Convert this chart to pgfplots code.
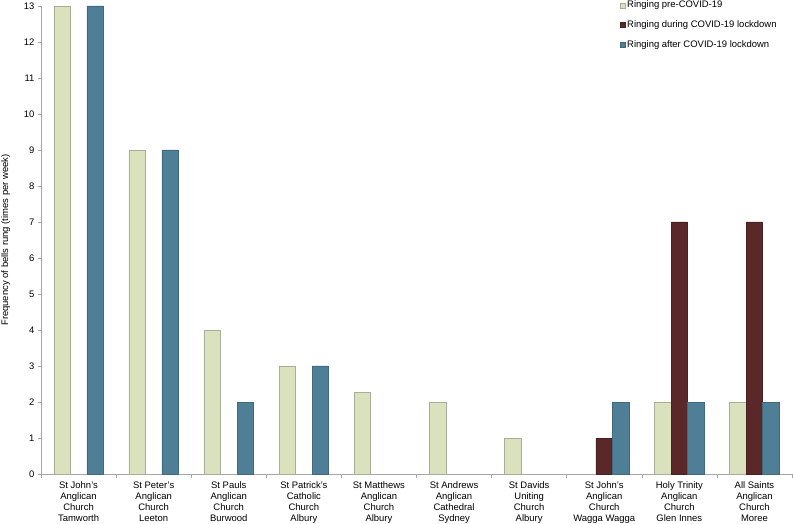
\documentclass[border=0pt]{standalone}
\usepackage{pgfplots}
\pgfplotsset{compat=1.18}
\usepackage{fontspec}
\setmainfont{Liberation Sans}
\definecolor{preC}{HTML}{DAE2BD}
\definecolor{preD}{HTML}{A9AE98}
\definecolor{durC}{HTML}{5A2828}
\definecolor{durD}{HTML}{4A2020}
\definecolor{aftC}{HTML}{4F7F97}
\definecolor{aftD}{HTML}{41697D}
\definecolor{axC}{HTML}{A6A6A6}
\begin{document}
\begin{tikzpicture}
\useasboundingbox (-41bp,-50bp) rectangle (753bp,474bp);
\begin{axis}[
  ybar, bar width=0.22,
  scale only axis,
  width=751bp, height=468bp,
  xmin=-0.5, xmax=9.5, ymin=0, ymax=13,
  axis x line*=bottom, axis y line*=left,
  axis line style={axC, line width=0.6pt},
  ytick={0,1,...,13},
  xtick={0,...,9},
  major x tick style={draw=none},
  minor xtick={-0.5,0.5,...,9.5},
  minor x tick style={axC, line width=0.6pt},
  y tick style={axC, line width=0.6pt},
  tick align=outside,
  major tick length=3bp, minor tick length=4bp,
  xticklabels={{St John's\\Anglican\\Church\\Tamworth},{St Peter's\\Anglican\\Church\\Leeton},{St Pauls\\Anglican\\Church\\Burwood},{St Patrick's\\Catholic\\Church\\Albury},{St Matthews\\Anglican\\Church\\Albury},{St Andrews\\Anglican\\Cathedral\\Sydney},{St Davids\\Uniting\\Church\\Albury},{St John's\\Anglican\\Church\\Wagga Wagga},{Holy Trinity\\Anglican\\Church\\Glen Innes},{All Saints\\Anglican\\Church\\Moree}},
  xticklabel style={align=center, font=\fontsize{9.5}{11}\selectfont, yshift=-1.5bp},
  yticklabel style={font=\fontsize{9.5}{11}\selectfont},
  /pgf/number format/assume math mode=true,
  ylabel={Frequency of bells rung (times per week)},
  ylabel style={font=\fontsize{9.5}{11}\selectfont, at={(axis description cs:-0.047,0.5)}, anchor=center},
  legend style={at={(rel axis cs:0.771,1.014)}, anchor=north west, draw=none, fill=none,
    font=\fontsize{9.5}{11}\selectfont, row sep=8.2bp, inner sep=0pt,
    nodes={inner sep=1.5pt}},
  legend cell align=left,
  legend image code/.code={\fill[#1] (0bp,-2.5bp) rectangle (5bp,2.5bp);},
]
\addplot[fill=preC, draw=preD, line width=0.5pt, bar shift=-0.22] coordinates {(0,13) (1,9) (2,4) (3,3) (4,2.27) (5,2) (6,1) (8,2) (9,2)};
\addlegendentry{Ringing pre-COVID-19}
\addplot[fill=durC, draw=durD, line width=0.5pt, bar shift=0] coordinates {(7,1) (8,7) (9,7)};
\addlegendentry{Ringing during COVID-19 lockdown}
\addplot[fill=aftC, draw=aftD, line width=0.5pt, bar shift=0.22] coordinates {(0,13) (1,9) (2,2) (3,3) (7,2) (8,2) (9,2)};
\addlegendentry{Ringing after COVID-19 lockdown}
\end{axis}
\end{tikzpicture}
\end{document}
